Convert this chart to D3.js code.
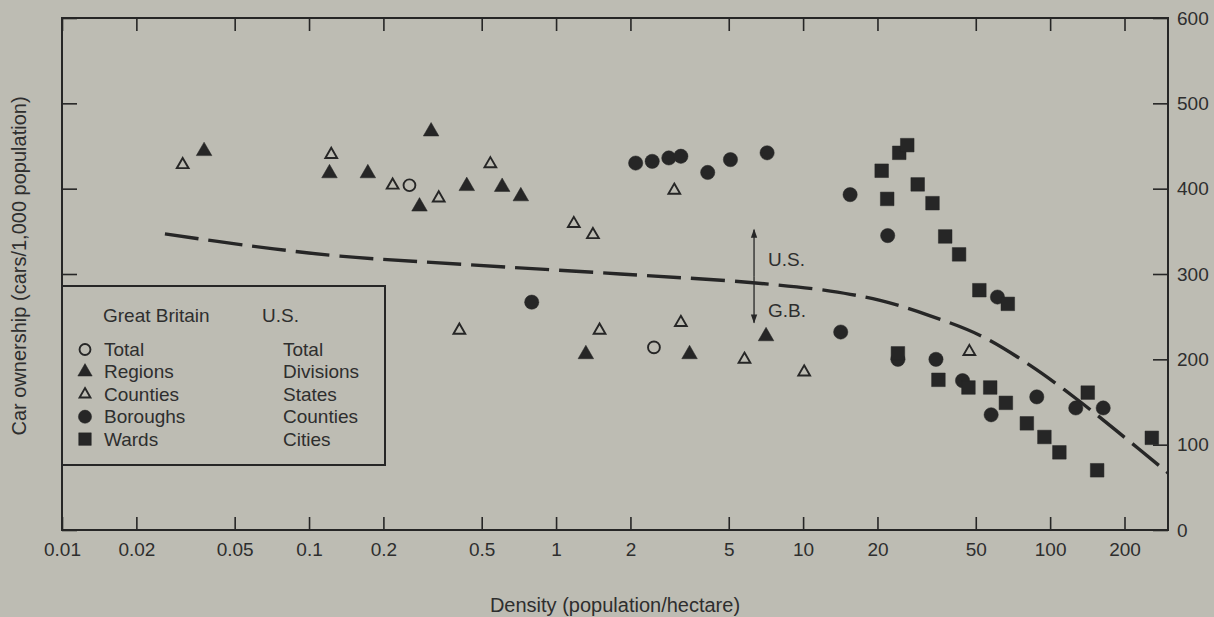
<!DOCTYPE html>
<html>
<head>
<meta charset="utf-8">
<script src="https://cdn.jsdelivr.net/npm/d3@7"></script>
<style>
  body { margin: 0; background: #bdbcb3; }
  svg { display: block; }
  text { font-family: "Liberation Sans", Arial, sans-serif; fill: #2e2e2e; }
</style>
</head>
<body>
<figure id="chart" style="margin:0"></figure>
<script>
// density (population/hectare), car ownership (cars/1,000 population)
const gbTotal = [[0.255, 404], [2.49, 214]];
const gbRegions = [[0.0376, 444], [0.121, 418], [0.173, 418], [0.28, 379], [0.312, 467],
  [0.435, 403], [0.605, 402], [0.72, 391], [1.32, 206], [3.47, 206], [7.08, 227]];
const gbCounties = [[0.0308, 428], [0.123, 440], [0.218, 404], [0.335, 389], [0.542, 429],
  [0.406, 234], [1.18, 359], [1.41, 346], [1.5, 234], [3.01, 398], [3.2, 243],
  [5.79, 200], [10.1, 185], [47.1, 209]];
const gbBoroughs = [[0.797, 267], [2.1, 430], [2.45, 432], [2.86, 436], [3.2, 438],
  [4.11, 419], [5.08, 434], [7.15, 442], [14.2, 232], [15.5, 393], [22.0, 345],
  [24.2, 200], [34.5, 200], [44.2, 175], [57.7, 135], [61.2, 273], [88.3, 156],
  [127, 143], [164, 143]];
const gbWards = [[20.8, 421], [21.9, 388], [24.5, 442], [26.4, 451], [29.1, 405],
  [33.4, 383], [37.6, 344], [42.8, 323], [51.7, 281], [67.4, 265], [24.2, 207],
  [35.3, 176], [46.7, 167], [57.2, 167], [66.2, 149], [80.5, 125], [94.8, 109],
  [109, 91], [142, 161], [155, 70], [258, 108]];
// dashed curve
const usCurve = [[0.0261, 347], [0.0577, 333], [0.1335, 321], [0.436, 311], [1.82, 300],
  [6.1, 290], [12.9, 280], [20.5, 269], [32.7, 251], [52.1, 228], [83, 193],
  [126, 155], [188, 115], [300, 67]];

const xTicks = [0.01, 0.02, 0.05, 0.1, 0.2, 0.5, 1, 2, 5, 10, 20, 50, 100, 200];
const yTicks = [0, 100, 200, 300, 400, 500, 600];
const legendGB = ["Total", "Regions", "Counties", "Boroughs", "Wards"];
const legendUS = ["Total", "Divisions", "States", "Counties", "Cities"];
const splitDensity = 6.33, splitTop = 352, splitBottom = 243;

const width = 1214, height = 617;
const ink = "#262626";

const svg = d3.select("figure#chart")
  .append("svg")
  .attr("width", width)
  .attr("height", height);

const x = d3.scaleLog().domain([0.01, 300]).range([62, 1168]);
const y = d3.scaleLinear().domain([0, 600]).range([530, 18]);

// axes, ticks pointing inward
svg.append("g")
  .attr("transform", "translate(0," + y(0) + ")")
  .call(d3.axisBottom(x).tickValues(xTicks).tickFormat(d3.format("~g"))
    .tickSizeInner(-13).tickSizeOuter(0).tickPadding(13))
  .call(g => g.select(".domain").remove());

svg.append("g")
  .attr("transform", "translate(0," + y(600) + ")")
  .call(d3.axisTop(x).tickValues(xTicks).tickFormat("").tickSizeInner(-13).tickSizeOuter(0))
  .call(g => g.select(".domain").remove());

svg.append("g")
  .attr("transform", "translate(" + x(300) + ",0)")
  .call(d3.axisRight(y).tickValues(yTicks).tickSizeInner(-15).tickSizeOuter(0).tickPadding(9))
  .call(g => g.select(".domain").remove());

svg.append("g")
  .attr("transform", "translate(" + x(0.01) + ",0)")
  .call(d3.axisLeft(y).tickValues(yTicks).tickFormat("").tickSizeInner(-15).tickSizeOuter(0))
  .call(g => g.select(".domain").remove());

svg.selectAll(".tick line").attr("stroke", ink).attr("stroke-width", 1.6);
svg.selectAll(".tick text").style("font-size", "19px").attr("fill", "#2e2e2e");

svg.append("rect")
  .attr("x", x(0.01)).attr("y", y(600))
  .attr("width", x(300) - x(0.01)).attr("height", y(0) - y(600))
  .attr("fill", "none").attr("stroke", ink).attr("stroke-width", 2);

// titles
svg.append("text")
  .attr("x", 615).attr("y", 612)
  .attr("text-anchor", "middle")
  .style("font-size", "20px")
  .text("Density (population/hectare)");

svg.append("text")
  .attr("transform", "rotate(-90)")
  .attr("x", -266).attr("y", 26)
  .attr("text-anchor", "middle")
  .style("font-size", "20px")
  .text("Car ownership (cars/1,000 population)");

// dashed line
const line = d3.line()
  .x(d => x(d[0]))
  .y(d => y(d[1]))
  .curve(d3.curveCatmullRom.alpha(0.5));

svg.append("path")
  .datum(usCurve)
  .attr("d", line)
  .attr("fill", "none")
  .attr("stroke", ink)
  .attr("stroke-width", 3.4)
  .attr("stroke-dasharray", "34 10");

// markers
const markers = {
  total: { type: d3.symbolCircle, size: 110, fill: "none" },
  regions: { type: d3.symbolTriangle, size: 105, fill: ink },
  counties: { type: d3.symbolTriangle, size: 60, fill: "none" },
  boroughs: { type: d3.symbolCircle, size: 160, fill: ink },
  wards: { type: d3.symbolSquare, size: 185, fill: ink }
};

function drawSeries(data, m) {
  svg.append("g")
    .selectAll("path")
    .data(data)
    .enter()
    .append("path")
    .attr("transform", d => "translate(" + x(d[0]) + "," + y(d[1]) + ")")
    .attr("d", d3.symbol().type(m.type).size(m.size))
    .attr("fill", m.fill)
    .attr("stroke", ink)
    .attr("stroke-width", m.fill === "none" ? 1.9 : 0.5);
}

drawSeries(gbTotal, markers.total);
drawSeries(gbRegions, markers.regions);
drawSeries(gbCounties, markers.counties);
drawSeries(gbBoroughs, markers.boroughs);
drawSeries(gbWards, markers.wards);

// U.S. / G.B. arrows
svg.append("defs").append("marker")
  .attr("id", "arrow")
  .attr("viewBox", "0 0 10 10")
  .attr("refX", 9).attr("refY", 5)
  .attr("markerWidth", 9).attr("markerHeight", 7)
  .attr("orient", "auto")
  .append("path")
  .attr("d", "M0,1.5 L10,5 L0,8.5 Z")
  .attr("fill", ink);

const mid = (y(splitTop) + y(splitBottom)) / 2;
svg.append("line")
  .attr("x1", x(splitDensity)).attr("x2", x(splitDensity))
  .attr("y1", mid).attr("y2", y(splitTop))
  .attr("stroke", ink).attr("stroke-width", 1.3)
  .attr("marker-end", "url(#arrow)");
svg.append("line")
  .attr("x1", x(splitDensity)).attr("x2", x(splitDensity))
  .attr("y1", mid).attr("y2", y(splitBottom))
  .attr("stroke", ink).attr("stroke-width", 1.3)
  .attr("marker-end", "url(#arrow)");

svg.append("text")
  .attr("x", x(splitDensity) + 14).attr("y", 266)
  .style("font-size", "19px")
  .text("U.S.");
svg.append("text")
  .attr("x", x(splitDensity) + 14).attr("y", 317)
  .style("font-size", "19px")
  .text("G.B.");

// legend
const legend = svg.append("g");
legend.append("rect")
  .attr("x", x(0.01)).attr("y", 286)
  .attr("width", 323).attr("height", 179)
  .attr("fill", "#bdbcb3").attr("stroke", ink).attr("stroke-width", 2);

legend.append("text").attr("x", 103).attr("y", 322).style("font-size", "19px").text("Great Britain");
legend.append("text").attr("x", 262).attr("y", 322).style("font-size", "19px").text("U.S.");

const legendMarkers = [markers.total, markers.regions, markers.counties, markers.boroughs, markers.wards];
legendGB.forEach((name, i) => {
  const by = 356 + i * 22.4;
  const m = legendMarkers[i];
  legend.append("path")
    .attr("transform", "translate(85," + (by - 6.5) + ")")
    .attr("d", d3.symbol().type(m.type).size(m.size * 0.85))
    .attr("fill", m.fill)
    .attr("stroke", ink)
    .attr("stroke-width", m.fill === "none" ? 1.9 : 0.5);
  legend.append("text").attr("x", 104).attr("y", by).style("font-size", "19px").text(name);
  legend.append("text").attr("x", 283).attr("y", by).style("font-size", "19px").text(legendUS[i]);
});
</script>
</body>
</html>
